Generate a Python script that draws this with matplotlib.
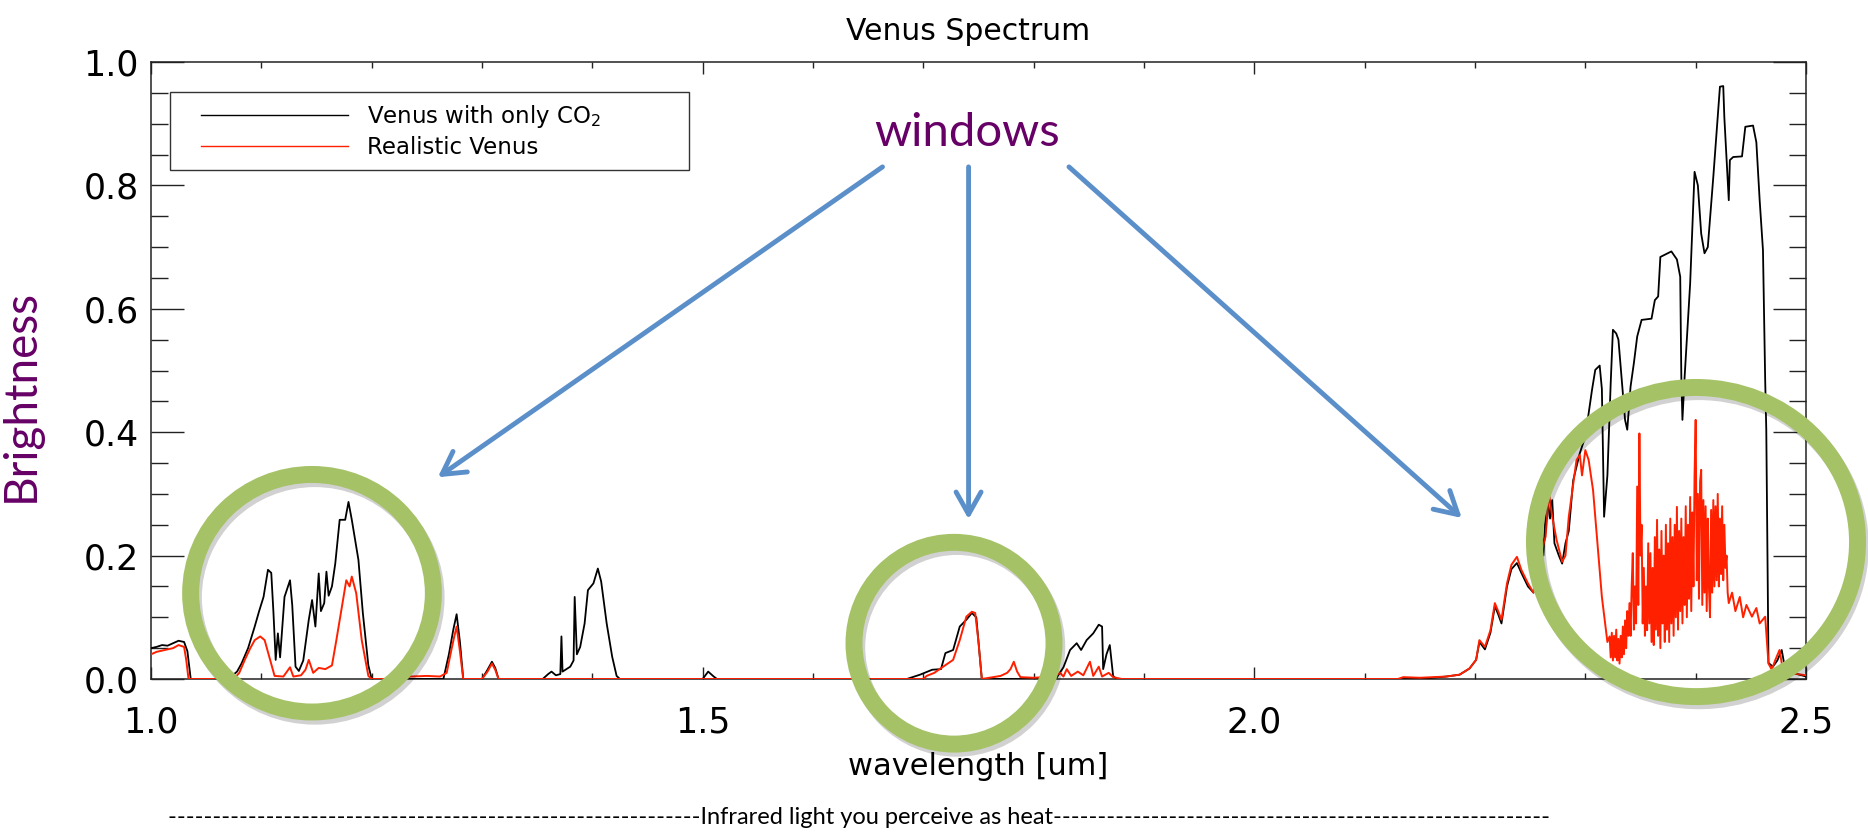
import matplotlib
matplotlib.use("Agg")
import matplotlib.pyplot as plt
import matplotlib.patheffects as pe
from matplotlib.patches import Ellipse
from matplotlib.lines import Line2D
from matplotlib.legend_handler import HandlerLine2D
from matplotlib.ticker import MultipleLocator

# ---- data: (wavelength um, brightness) ----
co2_pts = [
    (1.000, 0.050), (1.005, 0.052), (1.010, 0.055), (1.015, 0.054), (1.020, 0.058),
    (1.025, 0.062), (1.030, 0.060), (1.033, 0.045), (1.036, 0.000), (1.070, 0.000),
    (1.078, 0.012), (1.082, 0.025), (1.088, 0.050), (1.094, 0.085), (1.098, 0.110),
    (1.102, 0.133), (1.106, 0.177), (1.109, 0.172), (1.111, 0.107), (1.113, 0.031),
    (1.115, 0.074), (1.117, 0.035), (1.121, 0.133), (1.126, 0.160), (1.128, 0.120),
    (1.131, 0.020), (1.134, 0.013), (1.138, 0.030), (1.143, 0.096), (1.146, 0.128),
    (1.149, 0.085), (1.152, 0.171), (1.154, 0.110), (1.157, 0.123), (1.159, 0.174),
    (1.161, 0.135), (1.164, 0.150), (1.167, 0.187), (1.171, 0.258), (1.176, 0.258),
    (1.179, 0.287), (1.182, 0.258), (1.188, 0.193), (1.192, 0.107), (1.197, 0.022),
    (1.200, 0.000), (1.265, 0.000), (1.270, 0.040), (1.274, 0.080), (1.277, 0.105),
    (1.280, 0.060), (1.283, 0.000), (1.300, 0.000), (1.305, 0.015), (1.309, 0.028),
    (1.312, 0.018), (1.315, 0.000), (1.355, 0.000), (1.360, 0.008), (1.363, 0.012),
    (1.367, 0.006), (1.371, 0.008), (1.372, 0.069), (1.373, 0.012), (1.380, 0.020),
    (1.383, 0.030), (1.384, 0.133), (1.386, 0.040), (1.389, 0.052), (1.393, 0.090),
    (1.396, 0.144), (1.401, 0.155), (1.405, 0.179), (1.408, 0.158), (1.413, 0.090),
    (1.418, 0.036), (1.422, 0.005), (1.425, 0.000), (1.500, 0.000), (1.505, 0.012),
    (1.510, 0.004), (1.513, 0.000), (1.685, 0.000), (1.697, 0.007), (1.708, 0.015),
    (1.716, 0.016), (1.720, 0.042), (1.727, 0.047), (1.733, 0.085), (1.739, 0.096),
    (1.744, 0.107), (1.748, 0.100), (1.750, 0.060), (1.753, 0.000), (1.820, 0.000),
    (1.827, 0.019), (1.833, 0.047), (1.839, 0.058), (1.843, 0.047), (1.848, 0.063),
    (1.854, 0.074), (1.859, 0.088), (1.862, 0.085), (1.863, 0.016), (1.866, 0.040),
    (1.869, 0.055), (1.872, 0.005), (1.875, 0.000), (2.150, 0.000), (2.174, 0.004),
    (2.186, 0.007), (2.195, 0.017), (2.201, 0.031), (2.204, 0.060), (2.209, 0.048),
    (2.214, 0.075), (2.218, 0.118), (2.221, 0.105), (2.224, 0.090), (2.229, 0.150),
    (2.233, 0.178), (2.238, 0.188), (2.242, 0.172), (2.248, 0.150), (2.253, 0.140),
    (2.257, 0.190), (2.260, 0.250), (2.262, 0.200), (2.265, 0.300), (2.268, 0.260),
    (2.270, 0.290), (2.272, 0.220), (2.276, 0.200), (2.279, 0.187), (2.282, 0.220),
    (2.285, 0.240), (2.289, 0.322), (2.295, 0.366), (2.300, 0.393), (2.303, 0.431),
    (2.306, 0.468), (2.309, 0.501), (2.313, 0.508), (2.315, 0.470), (2.317, 0.263),
    (2.320, 0.330), (2.323, 0.480), (2.325, 0.566), (2.328, 0.560), (2.330, 0.550),
    (2.333, 0.486), (2.336, 0.420), (2.338, 0.404), (2.341, 0.474), (2.344, 0.512),
    (2.347, 0.555), (2.351, 0.582), (2.360, 0.584), (2.363, 0.614), (2.366, 0.620),
    (2.368, 0.684), (2.378, 0.693), (2.383, 0.680), (2.386, 0.652), (2.387, 0.490),
    (2.388, 0.420), (2.390, 0.490), (2.395, 0.641), (2.399, 0.822), (2.402, 0.800),
    (2.405, 0.722), (2.408, 0.690), (2.411, 0.700), (2.416, 0.814), (2.420, 0.911),
    (2.422, 0.960), (2.425, 0.961), (2.426, 0.910), (2.430, 0.776), (2.431, 0.841),
    (2.434, 0.846), (2.442, 0.847), (2.445, 0.895), (2.452, 0.897), (2.455, 0.870),
    (2.458, 0.776), (2.461, 0.695), (2.463, 0.485), (2.464, 0.404), (2.466, 0.026),
    (2.470, 0.020), (2.474, 0.030), (2.478, 0.047), (2.481, 0.017), (2.486, 0.010),
    (2.492, 0.008), (2.500, 0.004),
]

real_pts = [
    (1.000, 0.040), (1.005, 0.044), (1.010, 0.046), (1.015, 0.048), (1.020, 0.050),
    (1.025, 0.055), (1.030, 0.052), (1.032, 0.030), (1.034, 0.000), (1.075, 0.000),
    (1.080, 0.010), (1.085, 0.031), (1.090, 0.050), (1.094, 0.063), (1.099, 0.069),
    (1.103, 0.063), (1.108, 0.031), (1.112, 0.005), (1.120, 0.004), (1.126, 0.019),
    (1.129, 0.004), (1.136, 0.006), (1.140, 0.015), (1.143, 0.031), (1.147, 0.010),
    (1.152, 0.018), (1.158, 0.016), (1.164, 0.022), (1.168, 0.063), (1.173, 0.117),
    (1.177, 0.160), (1.180, 0.150), (1.182, 0.166), (1.186, 0.139), (1.191, 0.063),
    (1.197, 0.005), (1.200, 0.000), (1.228, 0.000), (1.235, 0.004), (1.250, 0.005),
    (1.262, 0.004), (1.268, 0.010), (1.272, 0.045), (1.275, 0.070), (1.277, 0.085),
    (1.280, 0.045), (1.283, 0.000), (1.300, 0.000), (1.305, 0.012), (1.309, 0.025),
    (1.312, 0.015), (1.315, 0.000), (1.700, 0.000), (1.703, 0.005), (1.710, 0.010),
    (1.718, 0.020), (1.727, 0.031), (1.733, 0.063), (1.739, 0.101), (1.744, 0.109),
    (1.747, 0.107), (1.750, 0.060), (1.753, 0.000), (1.770, 0.005), (1.776, 0.010),
    (1.779, 0.016), (1.782, 0.028), (1.785, 0.012), (1.788, 0.003), (1.800, 0.002),
    (1.818, 0.004), (1.824, 0.010), (1.827, 0.004), (1.830, 0.016), (1.834, 0.005),
    (1.840, 0.012), (1.845, 0.006), (1.851, 0.028), (1.854, 0.005), (1.859, 0.020),
    (1.862, 0.004), (1.868, 0.010), (1.872, 0.003), (1.880, 0.000), (2.130, 0.000),
    (2.135, 0.003), (2.150, 0.002), (2.174, 0.004), (2.186, 0.007), (2.195, 0.017),
    (2.201, 0.031), (2.204, 0.063), (2.209, 0.052), (2.214, 0.079), (2.218, 0.123),
    (2.221, 0.110), (2.224, 0.096), (2.229, 0.155), (2.233, 0.185), (2.238, 0.198),
    (2.242, 0.177), (2.248, 0.155), (2.253, 0.140), (2.259, 0.198), (2.264, 0.231),
    (2.267, 0.301), (2.270, 0.263), (2.274, 0.225), (2.279, 0.190), (2.282, 0.200),
    (2.285, 0.263), (2.289, 0.316), (2.292, 0.355), (2.295, 0.363), (2.297, 0.330),
    (2.300, 0.371), (2.303, 0.355), (2.307, 0.306), (2.312, 0.198), (2.315, 0.133),
    (2.318, 0.090), (2.320, 0.060), (2.322, 0.069), (2.323, 0.035), (2.324, 0.075),
    (2.325, 0.030), (2.326, 0.070), (2.327, 0.035), (2.328, 0.080), (2.329, 0.030),
    (2.330, 0.065), (2.331, 0.025), (2.332, 0.070), (2.333, 0.035), (2.334, 0.085),
    (2.335, 0.040), (2.336, 0.095), (2.337, 0.050), (2.338, 0.110), (2.339, 0.070),
    (2.340, 0.123), (2.341, 0.070), (2.342, 0.150), (2.343, 0.204), (2.344, 0.080),
    (2.345, 0.150), (2.346, 0.090), (2.347, 0.312), (2.348, 0.120), (2.349, 0.398),
    (2.350, 0.200), (2.351, 0.250), (2.352, 0.090), (2.353, 0.180), (2.354, 0.070),
    (2.355, 0.150), (2.356, 0.079), (2.357, 0.220), (2.358, 0.090), (2.359, 0.204),
    (2.360, 0.060), (2.361, 0.180), (2.362, 0.055), (2.363, 0.230), (2.364, 0.080),
    (2.365, 0.258), (2.366, 0.070), (2.367, 0.210), (2.368, 0.050), (2.369, 0.240),
    (2.370, 0.090), (2.371, 0.200), (2.372, 0.060), (2.373, 0.250), (2.374, 0.080),
    (2.375, 0.220), (2.376, 0.060), (2.377, 0.260), (2.378, 0.090), (2.379, 0.230),
    (2.380, 0.070), (2.381, 0.250), (2.382, 0.100), (2.383, 0.279), (2.384, 0.080),
    (2.385, 0.240), (2.386, 0.110), (2.387, 0.260), (2.388, 0.090), (2.389, 0.230),
    (2.390, 0.120), (2.391, 0.280), (2.392, 0.100), (2.393, 0.250), (2.394, 0.130),
    (2.395, 0.295), (2.396, 0.110), (2.397, 0.270), (2.398, 0.150), (2.399, 0.330),
    (2.400, 0.420), (2.401, 0.160), (2.402, 0.300), (2.403, 0.130), (2.404, 0.320),
    (2.405, 0.339), (2.406, 0.120), (2.407, 0.290), (2.408, 0.140), (2.409, 0.280),
    (2.410, 0.110), (2.411, 0.260), (2.412, 0.150), (2.413, 0.100), (2.414, 0.274),
    (2.415, 0.140), (2.416, 0.290), (2.417, 0.150), (2.418, 0.280), (2.419, 0.160),
    (2.420, 0.300), (2.421, 0.150), (2.422, 0.260), (2.423, 0.170), (2.424, 0.280),
    (2.425, 0.160), (2.426, 0.250), (2.427, 0.180), (2.428, 0.200), (2.429, 0.140),
    (2.430, 0.123), (2.433, 0.140), (2.436, 0.110), (2.440, 0.133), (2.443, 0.100),
    (2.446, 0.120), (2.451, 0.101), (2.455, 0.115), (2.458, 0.090), (2.463, 0.101),
    (2.466, 0.025), (2.469, 0.015), (2.472, 0.030), (2.476, 0.047), (2.479, 0.015),
    (2.485, 0.010), (2.492, 0.008), (2.500, 0.006),
]
co2_x, co2_y = zip(*co2_pts)
real_x, real_y = zip(*real_pts)

series_labels = ["Venus with only CO$_2$", "Realistic Venus"]

# slide annotations (positions in data units)
window_text = "windows"
arrow_start = [(1.663, 0.830), (1.741, 0.830), (1.832, 0.830)]
arrow_tip = [(1.260, 0.327), (1.741, 0.259), (2.188, 0.261)]
rings = [(1.1459, 0.139, 0.2200, 0.385),   # cx, cy, width, height
         (1.7278, 0.058, 0.1813, 0.327),
         (2.4003, 0.222, 0.2928, 0.501)]
footer = "-" * 60 + "Infrared light you perceive as heat" + "-" * 56

purple = "#660066"
arrow_col = "#5b8fc9"
ring_col = "#a5c266"
red = "#ff2000"

fig = plt.figure(figsize=(18.68, 8.34), dpi=100)
ax = fig.add_axes([151/1868, 1 - 679/834, 1655/1868, 617/834])

ax.plot(co2_x, co2_y, color="black", lw=1.3, zorder=3)
ax.plot(real_x, real_y, color=red, lw=1.4, zorder=4)

ax.set_xlim(1.0, 2.5)
ax.set_ylim(0.0, 1.0)
ax.xaxis.set_major_locator(MultipleLocator(0.5))
ax.xaxis.set_minor_locator(MultipleLocator(0.1))
ax.yaxis.set_major_locator(MultipleLocator(0.2))
ax.yaxis.set_minor_locator(MultipleLocator(0.05))
ax.xaxis.set_major_formatter(plt.FormatStrFormatter("%.1f"))
ax.yaxis.set_major_formatter(plt.FormatStrFormatter("%.1f"))

for s in ax.spines.values():
    s.set_linewidth(1.1)
    s.set_color("#222222")
ax.tick_params(which="both", direction="in", top=True, right=True,
               color="#222222", width=1.0, labelsize=25)
ax.tick_params(axis="x", which="major", length=8.6, pad=19)
ax.tick_params(axis="x", which="minor", length=4.3)
ax.tick_params(axis="y", which="major", length=24, pad=9)
ax.tick_params(axis="y", which="minor", length=12)

ax.set_title("Venus Spectrum", fontsize=21.5, pad=16, x=0.4937)
ax.set_xlabel("wavelength [um]", fontsize=22)
ax.xaxis.set_label_coords(0.5, -0.118)
ax.set_ylabel("Brightness", fontsize=33, color=purple, family=["Lato", "DejaVu Sans"])
ax.yaxis.set_label_coords(-0.066, 0.4587)

handles = [Line2D([], [], color="black", lw=1.0), Line2D([], [], color=red, lw=1.0)]
hmap = {h: HandlerLine2D(xpad=0.9) for h in handles}
leg = ax.legend(handles, series_labels, loc="upper left", handler_map=hmap,
                bbox_to_anchor=(0.0115, 0.82, 0.3135, 0.131), mode="expand",
                borderaxespad=0, fontsize=16.5, handlelength=7.3, handletextpad=0.85,
                labelspacing=0.3, borderpad=0.45, fancybox=False,
                edgecolor="#333333", framealpha=1)
leg.get_frame().set_linewidth(1.0)

# slide overlays: label, arrows and rings
ax.text(1.740, 0.885, window_text, color=purple, fontsize=34, ha="center", va="center",
        family=["Lato", "DejaVu Sans"], zorder=6)
for (x0, y0), (x1, y1) in zip(arrow_start, arrow_tip):
    ax.annotate("", xy=(x1, y1), xytext=(x0, y0), annotation_clip=False,
                arrowprops=dict(arrowstyle="->,head_length=0.8,head_width=0.45",
                                mutation_scale=20, lw=3.5, color=arrow_col,
                                shrinkA=0, shrinkB=0), zorder=6)
for cx, cy, w, h in rings:
    ring = Ellipse((cx, cy), w, h, fill=False, edgecolor=ring_col, lw=12.2,
                   clip_on=False, zorder=7)
    ring.set_path_effects([pe.SimpleLineShadow(offset=(2, -3), shadow_color="black", alpha=0.18),
                           pe.Normal()])
    ax.add_patch(ring)

fig.text(859/1868, 1 - 817/834, footer,
         fontsize=17, ha="center", va="center", family=["Lato", "DejaVu Sans"])

fig.savefig("out.png", dpi=100)
